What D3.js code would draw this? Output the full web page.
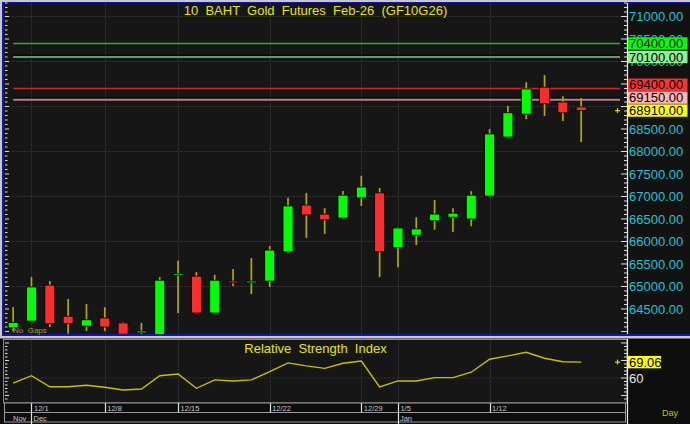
<!DOCTYPE html>
<html><head><meta charset="utf-8">
<script src="https://cdn.jsdelivr.net/npm/d3@7"></script>
<style>
html,body{margin:0;padding:0;background:#c8c8c8;}
svg{display:block;}
text{font-family:"Liberation Sans",Arial,sans-serif;}
</style></head>
<body>
<svg id="chart" width="690" height="424"></svg>
<script>
// ---------- data ----------
const dates = ["11/28","12/1","12/2","12/3","12/4","12/8","12/9","12/11","12/12","12/15","12/16","12/17","12/18","12/19","12/22","12/23","12/24","12/25","12/26","12/29","12/30","1/5","1/6","1/7","1/8","1/9","1/12","1/13","1/14","1/15","1/16","1/19"];
const open  = [64080,64230,65030,64340,64120,64300,64190,63970,63930,65250,65230,64410,65120,65080,65120,65770,66810,66610,66520,66970,67080,65860,66140,66460,66540,66500,67010,68320,68830,69430,69100,68990];
const high  = [64540,65210,65120,64720,64610,64540,64210,64190,65210,65570,65320,65260,65390,65630,65900,66970,67080,66740,67120,67460,67190,66320,66540,66920,66740,67120,68500,69010,69540,69700,69230,69190];
const low   = [64000,64210,64100,63950,64010,64010,63900,63940,63900,64410,64390,64400,65010,64830,64990,65740,66080,66170,66500,66790,65210,65430,65920,66260,66210,66340,66990,68300,68720,68790,68680,68210];
const close = [64200,64990,64170,64170,64260,64100,63940,64010,65140,65280,64410,65140,65080,65120,65810,66790,66590,66480,67030,67210,65770,66300,66280,66610,66630,67030,68390,68860,69390,69060,68860,68910];
const rsi   = [57.0,61.3,55.0,55.0,55.8,54.7,53.1,53.7,61.3,62.3,54.1,58.9,58.3,58.9,63.6,68.6,66.9,65.5,68.4,69.7,54.9,58.3,58.3,60.2,60.2,63.3,70.7,72.6,74.7,71.3,69.3,69.06];
const priceTicks = [64500,65000,65500,66000,66500,67000,67500,68000,68500,69000,69500,70000,70500,71000];
const gridPrices = [65000,66000,67000,68000,69000,70000,71000];
const weekLabels = ["12/1","12/8","12/15","12/22","12/29","1/5","1/12"];
const monthLabels = ["Nov","Dec","Jan"];
const monthStarts = ["11/28","12/1","1/5"];
const levels = [70400,70100,69400,69150];
const lastPrice = 68910;
const lastRsi = 69.06;
const rsiTicks = [60];
const title = "10  BAHT  Gold  Futures  Feb-26  (GF10G26)";
const rsiTitle = "Relative  Strength  Index";

// ---------- styles ----------
const levelStyle = [
  {line:"#22b422", w:1.3, shadow:false, bg:"#00ff00"},
  {line:"#5e9e5e", w:2.2, shadow:true,  bg:"#90ee90"},
  {line:"#dc2222", w:1.3, shadow:false, bg:"#ff3030"},
  {line:"#b88080", w:2.2, shadow:true,  bg:"#ffb4b4"}
];
const UP="#00ff00", DN="#ff2c2c", WICK="#b2aa00", AXTXT="#1cc4d4", YEL="#e6e600";

const svg = d3.select("#chart");
const W=690,H=424;
const PL=4, PR=627, PT=3, PB=334;
const RT=340, RB=403;

// backgrounds
svg.append("rect").attr("x",0).attr("y",0).attr("width",W).attr("height",H).attr("fill","#0d0d0d");
svg.append("rect").attr("x",0).attr("y",0).attr("width",W).attr("height",337).attr("fill","#c8c8c8");
svg.append("rect").attr("x",2).attr("y",2).attr("width",W).attr("height",334).attr("fill","#1414b4");
svg.append("rect").attr("x",PL).attr("y",PT).attr("width",W-PL).attr("height",PB-PT).attr("fill","#121212");
svg.append("rect").attr("x",PL).attr("y",PT).attr("width",PR-PL).attr("height",PB-PT).attr("fill","#161616");
svg.append("line").attr("x1",0).attr("x2",W).attr("y1",337.8).attr("y2",337.8).attr("stroke","#c8c8c8").attr("stroke-width",1.5);

// scales
const x = d3.scaleLinear().domain([-0.5,33.5]).range([PL,PR]);
const y = d3.scaleLinear().domain([63944,71300]).range([PB,PT]);
const yr = d3.scaleLinear().domain([45.7,81.7]).range([RB,RT]);
const idx = d => dates.indexOf(d);

// clip
svg.append("clipPath").attr("id","pclip").append("rect").attr("x",PL).attr("y",PT).attr("width",PR-PL).attr("height",PB-PT);
const plot = svg.append("g").attr("clip-path","url(#pclip)");

// grid
plot.selectAll(".hg").data(gridPrices).join("line")
  .attr("x1",PL).attr("x2",PR).attr("y1",d=>Math.round(y(d))+0.5).attr("y2",d=>Math.round(y(d))+0.5)
  .attr("stroke","#2e2e2e").attr("stroke-width",1).attr("stroke-dasharray","3,1");
plot.selectAll(".vg").data(weekLabels).join("line")
  .attr("x1",d=>Math.round(x(idx(d)))+0.5).attr("x2",d=>Math.round(x(idx(d)))+0.5).attr("y1",PT).attr("y2",PB)
  .attr("stroke","#2e2e2e").attr("stroke-width",1).attr("stroke-dasharray","3,1");

// level lines
levels.forEach((v,i)=>{
  const st=levelStyle[i], yy=y(v);
  if(st.shadow) plot.append("line").attr("x1",x(0)).attr("x2",620).attr("y1",yy-1.8).attr("y2",yy-1.8).attr("stroke","#000").attr("stroke-width",1);
  plot.append("line").attr("x1",x(0)).attr("x2",620).attr("y1",yy).attr("y2",yy).attr("stroke",st.line).attr("stroke-width",st.w);
});

// title
svg.append("text").attr("x",(PL+PR)/2).attr("y",15).attr("text-anchor","middle")
  .attr("font-size",13).attr("fill",YEL).style("white-space","pre").text(title);

// candles
const cw = 10;
dates.forEach((d,i)=>{
  const cx = x(i);
  plot.append("line").attr("x1",cx).attr("x2",cx).attr("y1",y(high[i])).attr("y2",y(low[i]))
    .attr("stroke",WICK).attr("stroke-width",1.7);
  const up = close[i]>=open[i];
  const top = y(Math.max(open[i],close[i])), bot = y(Math.min(open[i],close[i]));
  plot.append("rect").attr("x",cx-cw/2).attr("y",top).attr("width",cw).attr("height",Math.max(bot-top,1.5))
    .attr("fill",up?UP:DN).attr("stroke","#000").attr("stroke-width",0.8);
});

// No Gaps
svg.append("text").attr("x",13).attr("y",333).attr("font-size",8).attr("fill","#a8a020").style("white-space","pre").text("No  Gaps");

// left axis ticks
const minorP = d3.range(64000,71301,100);
svg.selectAll(".lt").data(minorP).join("line")
  .attr("x1",PL+1).attr("x2",d=>d%500===0?PL+5:PL+3.5).attr("y1",d=>y(d)).attr("y2",d=>y(d))
  .attr("stroke","#e0e0e0").attr("stroke-width",1);
// right axis
svg.append("line").attr("x1",PR+0.5).attr("x2",PR+0.5).attr("y1",PT).attr("y2",PB).attr("stroke","#e8e8e8").attr("stroke-width",1.2);
svg.selectAll(".rt").data(minorP).join("line")
  .attr("x1",d=>d%500===0?PR-6:PR-3).attr("x2",PR).attr("y1",d=>y(d)).attr("y2",d=>y(d))
  .attr("stroke","#e0e0e0").attr("stroke-width",1);

// level label boxes with collision
const boxes = levels.map((v,i)=>({v,bg:levelStyle[i].bg})).concat([{v:lastPrice,bg:"#ffff00"}]);
const bh=12.4;
boxes.forEach(b=>b.c=y(b.v));
const sorted = boxes.slice().sort((a,b)=>b.c-a.c);
for(let k=1;k<sorted.length;k++){
  const prev=sorted[k-1];
  if(sorted[k].c > prev.c - bh - 0.5) sorted[k].c = prev.c - bh - 0.5;
}
// price labels (skip those completely hidden behind a label box)
const covered = c => {
  const t=c-4.6, b=c+4.6;
  const hit = yy => boxes.some(bx => yy>=bx.c-bh/2-0.6 && yy<=bx.c+bh/2+0.6);
  return hit(t) && hit(b) && hit(c);
};
svg.selectAll(".pl").data(priceTicks.filter(d=>!covered(y(d)))).join("text")
  .attr("x",PR+2).attr("y",d=>y(d)+4.6).attr("font-size",13).attr("fill",AXTXT).text(d=>d.toFixed(2));
boxes.forEach(b=>{
  svg.append("rect").attr("x",PR+1).attr("y",b.c-bh/2).attr("width",59.5).attr("height",bh).attr("fill",b.bg);
  svg.append("text").attr("x",PR+2).attr("y",b.c+4.6).attr("font-size",13).attr("fill","#000").text(b.v.toFixed(2));
});
// last price marker
function marker(yy){
  svg.append("path").attr("d",`M${PR-12},${yy} h5 M${PR-9.5},${yy-2.5} v5`).attr("stroke","#d8d000").attr("stroke-width",1.2);
}
marker(y(lastPrice));

// ---------- RSI panel ----------
svg.append("rect").attr("x",3.5).attr("y",339.5).attr("width",PR-3.5).attr("height",RB-339.5).attr("fill","#161616").attr("stroke","#8a8a8a").attr("stroke-width",1);
const rg = svg.append("g");
rg.selectAll("line.vg").data(weekLabels).join("line")
  .attr("x1",d=>Math.round(x(idx(d)))+0.5).attr("x2",d=>Math.round(x(idx(d)))+0.5).attr("y1",340).attr("y2",RB)
  .attr("stroke","#2e2e2e").attr("stroke-dasharray","3,1");
rg.selectAll("line.hg").data(rsiTicks).join("line")
  .attr("x1",PL).attr("x2",PR).attr("y1",d=>yr(d)).attr("y2",d=>yr(d)).attr("stroke","#2e2e2e").attr("stroke-dasharray","3,1");
svg.append("text").attr("x",(PL+PR)/2).attr("y",353).attr("text-anchor","middle")
  .attr("font-size",13).attr("fill",YEL).style("white-space","pre").text(rsiTitle);
svg.append("path").datum(rsi).attr("d",d3.line().x((d,i)=>x(i)).y(d=>yr(d)))
  .attr("fill","none").attr("stroke","#c8c000").attr("stroke-width",1.4);
const rMinor = d3.range(48,81,2);
svg.selectAll(".rlt").data(rMinor).join("line")
  .attr("x1",PL+1).attr("x2",d=>d%10===0?PL+5:PL+3.5).attr("y1",d=>yr(d)).attr("y2",d=>yr(d)).attr("stroke","#e0e0e0");
svg.append("line").attr("x1",PR+0.5).attr("x2",PR+0.5).attr("y1",339).attr("y2",H).attr("stroke","#e8e8e8").attr("stroke-width",1.2);
svg.selectAll(".rrt").data(rMinor).join("line")
  .attr("x1",d=>d%10===0?PR-6:PR-3).attr("x2",PR).attr("y1",d=>yr(d)).attr("y2",d=>yr(d)).attr("stroke","#e0e0e0");
svg.selectAll(".rl").data(rsiTicks).join("text")
  .attr("x",PR+2).attr("y",d=>yr(d)+4.6).attr("font-size",13).attr("fill","#e8e8e8").text(d=>d);
svg.append("rect").attr("x",PR+1).attr("y",yr(lastRsi)-6.2).attr("width",33).attr("height",12.4).attr("fill","#ffff00");
svg.append("text").attr("x",PR+2).attr("y",yr(lastRsi)+4.6).attr("font-size",13).attr("fill","#000").text(lastRsi.toFixed(2));
marker(yr(lastRsi));

// ---------- time axis ----------
svg.append("rect").attr("x",4.5).attr("y",RB).attr("width",PR-6).attr("height",9.5).attr("fill","#0d0d0d").attr("stroke","#9a9a9a").attr("stroke-width",1);
svg.append("rect").attr("x",4.5).attr("y",412.5).attr("width",PR-6).attr("height",9.5).attr("fill","#0d0d0d").attr("stroke","#9a9a9a").attr("stroke-width",1);
svg.selectAll(".wt").data(weekLabels).join("line")
  .attr("x1",d=>Math.round(x(idx(d)))+0.5).attr("x2",d=>Math.round(x(idx(d)))+0.5)
  .attr("y1",RB).attr("y2",d=>monthStarts.includes(d)?H:412.5).attr("stroke","#e0e0e0").attr("stroke-width",1.2);
svg.selectAll(".wl").data(weekLabels).join("text")
  .attr("x",d=>x(idx(d))+2.5).attr("y",411).attr("font-size",7.5).attr("fill","#c8c8c8").text(d=>d);
svg.selectAll(".ml").data(monthLabels).join("text")
  .attr("x",(d,i)=> i===0 ? 13 : x(idx(monthStarts[i]))+2).attr("y",420.5).attr("font-size",7.5).attr("fill","#c8c8c8").text(d=>d);
svg.append("text").attr("x",662).attr("y",416).attr("font-size",9).attr("fill","#c8c000").text("Day");
</script>
</body></html>
